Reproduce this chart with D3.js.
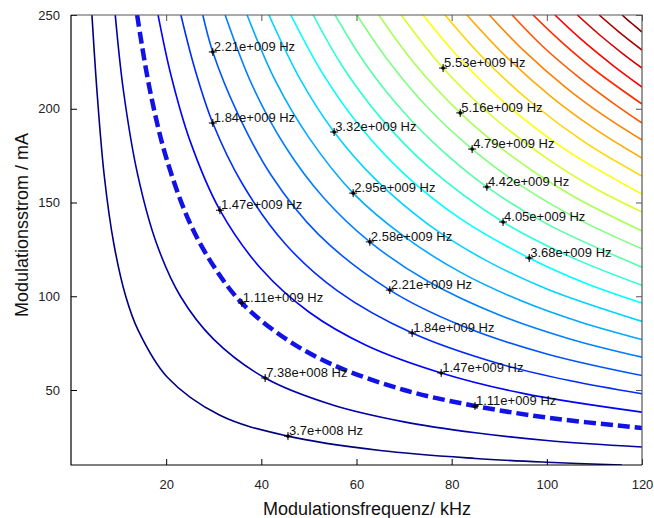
<!DOCTYPE html>
<html>
<head>
<meta charset="utf-8">
<script src="https://cdn.jsdelivr.net/npm/d3@7"></script>
<style>
  html, body { margin: 0; padding: 0; background: #fff; }
  svg { display: block; font-family: "Liberation Sans", Arial, sans-serif; }
</style>
</head>
<body>
<svg id="chart" width="654" height="518"></svg>
<script>
// ---- data ----
const xTicks = [20, 40, 60, 80, 100, 120];
const yTicks = [50, 100, 150, 200, 250];
const xTitle = "Modulationsfrequenz/ kHz";
const yTitle = "Modulationsstrom / mA";

// contour lines, level 1 .. 25, points [frequency kHz, current mA]
const contour01 = [[4.4,250],[5.5,208],[7,164],[9,128],[11.5,100],[14.1,81.9],[20.2,56.9],[31.3,36.5],[45.6,25.4],[65,17.7],[85,13.5],[100,11.5],[115.8,10]];
const contour02 = [[9.3,250],[11,210],[14,165],[18,128],[23,100],[30,77],[40.8,56.4],[55,42],[70,33],[85,27.2],[100,23.1],[120,19.6]];
const contour03 = [[13.9,250],[16.5,211],[20,174],[25,139],[30,116],[35.9,96.4],[45,77.5],[55,63.5],[70,50],[84.9,41.5],[100,35.3],[120,29.7]];
const contour04 = [[18.3,250],[21,218],[25,183],[31.3,145.9],[40,114.5],[50,91.6],[62,73.9],[77.8,59.1],[95,48.2],[120,38.2]];
const contour05 = [[23.1,250],[26,221.5],[29.8,192.4],[36,160],[45,128],[56,102.9],[71.7,80.4],[90,64],[105,54.9],[120,48]];
const contour06 = [[27.7,250],[29.8,230.3],[35,197.7],[42,164.8],[52,133],[67,103.3],[82,84.4],[100,69.2],[120,57.7]];
const contour07 = [[32.4,250],[38,213],[45,180],[53,152.8],[62.8,129],[75,108],[90,90],[105,77.1],[120,67.5]];
const contour08 = [[37,250],[43,214.7],[50,184.6],[59.3,155],[70,131.9],[82,112.6],[95,97.2],[107,86.3],[120,76.9]];
const contour09 = [[41.6,250],[48,216.5],[55.3,187.6],[64,162.3],[75,138.5],[87,119.4],[100,103.9],[120,86.6]];
const contour10 = [[46.2,250],[53,218.3],[61,189.7],[70,165.3],[82,141.1],[96.3,120.4],[108,107.1],[120,96.4]];
const contour11 = [[50.9,250],[57,222.8],[65,195.4],[75,169.3],[90.8,139.6],[105,121],[120,105.8]];
const contour12 = [[55.5,250],[62,223.5],[70,198],[78,177.7],[87.4,158.3],[100,138.6],[120,115.5]];
const contour13 = [[60.1,250],[67,224.5],[75,200.5],[84.3,178.5],[95,158.3],[107,140.6],[120,125.3]];
const contour14 = [[64.7,250],[72,224.7],[81.8,197.8],[92,175.9],[105,154.1],[120,134.8]];
const contour15 = [[69.4,250],[78.2,221.7],[88,197.2],[100,173.5],[110,157.7],[120,144.9]];
const contour16 = [[74,250],[82,225.9],[92,201.3],[104,178.1],[120,154.5]];
const contour17 = [[78.6,250],[87,226.1],[97,202.8],[108,182.1],[120,164.1]];
const contour18 = [[83.2,250],[91,228.9],[101,206.2],[110,189.4],[120,173.7]];
const contour19 = [[87.9,250],[95,231.4],[104,211.3],[112,196.3],[120,183.3]];
const contour20 = [[92.7,250],[99,233.6],[107,216.2],[114,202.9],[120,192.4]];
const contour21 = [[97.1,250],[103,235.8],[110,220.8],[120,202.5]];
const contour22 = [[101.7,250],[107,237.5],[114,222.9],[120,211.6]];
const contour23 = [[106.4,250],[111,239.6],[116,229.3],[120,221.7]];
const contour24 = [[111,250],[115,241.3],[120,231.3]];
const contour25 = [[115.8,250],[118,245.2],[120,240.9]];
const contours = [contour01,contour02,contour03,contour04,contour05,contour06,contour07,contour08,contour09,contour10,
  contour11,contour12,contour13,contour14,contour15,contour16,contour17,contour18,contour19,contour20,
  contour21,contour22,contour23,contour24,contour25];
const dashedLevel = 3; // highlighted contour (1.11e+009 Hz)

// contour labels
const labelText = ["3.7e+008 Hz","7.38e+008 Hz","1.11e+009 Hz","1.11e+009 Hz","1.47e+009 Hz","1.47e+009 Hz",
  "1.84e+009 Hz","1.84e+009 Hz","2.21e+009 Hz","2.21e+009 Hz","2.58e+009 Hz","2.95e+009 Hz","3.32e+009 Hz",
  "3.68e+009 Hz","4.05e+009 Hz","4.42e+009 Hz","4.79e+009 Hz","5.16e+009 Hz","5.53e+009 Hz"];
const labelF = [45.6,40.8,35.9,84.9,31.3,77.8,29.8,71.7,29.8,67.0,62.8,59.3,55.3,96.3,90.8,87.4,84.3,81.8,78.2];
const labelI = [25.4,56.4,96.4,41.5,145.9,59.1,192.4,80.4,230.3,103.3,129,155,187.6,120.4,139.6,158.3,178.5,197.8,221.7];

// ---- chart ----
const svg = d3.select("#chart");
const L = 71, R = 642, T = 15, B = 465;
const x = d3.scaleLinear().domain([0, 120]).range([L, R]);
const y = d3.scaleLinear().domain([10, 250]).range([B, T]);

function jet(t) {
  const c = v => Math.max(0, Math.min(1, v));
  const r = c(1.5 - Math.abs(4 * t - 3));
  const g = c(1.5 - Math.abs(4 * t - 2));
  const b = c(1.5 - Math.abs(4 * t - 1));
  return d3.rgb(r * 255, g * 255, b * 255).toString();
}

svg.append("defs").append("clipPath").attr("id", "plotclip")
  .append("rect").attr("x", L).attr("y", T).attr("width", R - L).attr("height", B - T);

const line = d3.line().x(d => x(d[0])).y(d => y(d[1])).curve(d3.curveCatmullRom.alpha(0.5));

const g = svg.append("g").attr("clip-path", "url(#plotclip)");
contours.forEach((pts, i) => {
  const lvl = i + 1;
  if (lvl === dashedLevel) return;
  g.append("path").attr("d", line(pts)).attr("fill", "none")
    .attr("stroke", jet(i / (contours.length - 1))).attr("stroke-width", 1.6)
    .attr("stroke-linejoin", "round");
});
g.append("path").attr("d", line(contours[dashedLevel - 1])).attr("fill", "none")
  .attr("stroke", "#1212e6").attr("stroke-width", 4.5).attr("stroke-dasharray", "12,5");

// labels
const lab = svg.append("g");
labelText.forEach((t, i) => {
  const px = x(labelF[i]), py = y(labelI[i]);
  lab.append("path").attr("d", `M${px-4},${py}H${px+4}M${px},${py-4}V${py+4}`)
    .attr("stroke", "#000").attr("stroke-width", 1);
  lab.append("circle").attr("cx", px).attr("cy", py).attr("r", 1.8).attr("fill", "#000");
  lab.append("text").attr("x", px + 1).attr("y", py - 1).attr("font-size", 13)
    .attr("fill", "#111").text(t);
});

// axes
const ax = svg.append("g");
ax.append("g").attr("transform", `translate(0,${B})`)
  .call(d3.axisBottom(x).tickValues(xTicks).tickSizeInner(-6).tickSizeOuter(0).tickPadding(15).tickFormat(d3.format("d")))
  .call(s => s.select(".domain").remove())
  .call(s => s.selectAll("text").attr("font-size", 13).attr("fill", "#222").attr("font-family", "Liberation Sans, Arial, sans-serif"));
ax.append("g").attr("transform", `translate(${L},0)`)
  .call(d3.axisLeft(y).tickValues(yTicks).tickSizeInner(-6).tickSizeOuter(0).tickPadding(11).tickFormat(d3.format("d")))
  .call(s => s.select(".domain").remove())
  .call(s => s.selectAll("text").attr("font-size", 13).attr("fill", "#222").attr("font-family", "Liberation Sans, Arial, sans-serif"));
ax.append("g").attr("transform", `translate(0,${T})`)
  .call(d3.axisTop(x).tickValues(xTicks).tickSizeInner(-6).tickSizeOuter(0).tickFormat(""))
  .call(s => s.select(".domain").remove())
  .call(s => s.selectAll("line").attr("stroke", "#555"));
ax.append("g").attr("transform", `translate(${R},0)`)
  .call(d3.axisRight(y).tickValues(yTicks).tickSizeInner(-6).tickSizeOuter(0).tickFormat(""))
  .call(s => s.select(".domain").remove())
  .call(s => s.selectAll("line").attr("stroke", "#555"));

// frame
svg.append("path").attr("d", `M${L},${T}H${R}V${B}`).attr("fill", "none").attr("stroke", "#555").attr("stroke-width", 1.2);
svg.append("path").attr("d", `M${L},${T}V${B}H${R}`).attr("fill", "none").attr("stroke", "#000").attr("stroke-width", 1.2);

// titles
svg.append("text").attr("x", 367).attr("y", 515).attr("text-anchor", "middle")
  .attr("font-size", 18).attr("fill", "#111").text(xTitle);
svg.append("text").attr("transform", "translate(28,225) rotate(-90)").attr("text-anchor", "middle")
  .attr("font-size", 18).attr("fill", "#111").text(yTitle);
</script>
</body>
</html>
